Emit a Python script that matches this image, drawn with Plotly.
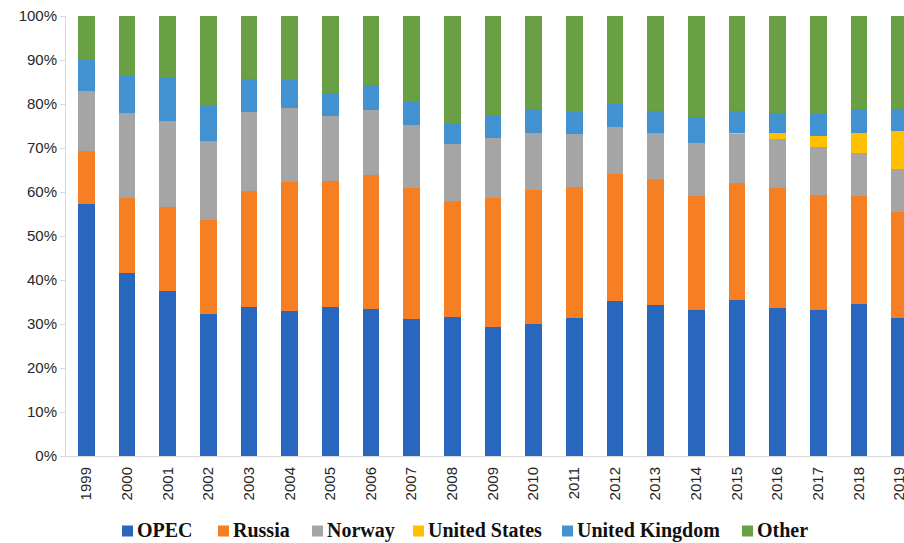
import plotly.graph_objects as go

years = [str(y) for y in range(1999, 2020)]

# Shares of each supplier (percent of total)
opec = [57.3, 41.5, 37.5, 32.2, 33.9, 32.9, 33.9, 33.3, 31.1, 31.6, 29.4,
        30.0, 31.4, 35.3, 34.4, 33.1, 35.4, 33.6, 33.1, 34.6, 31.4]
russia = [12.0, 17.2, 19.2, 21.5, 26.3, 29.4, 28.5, 30.6, 29.9, 26.3, 29.3,
          30.4, 29.7, 28.9, 28.6, 26.1, 26.6, 27.4, 26.2, 24.6, 24.1]
norway = [13.7, 19.3, 19.5, 17.9, 17.9, 16.8, 14.9, 14.8, 14.2, 12.9, 13.6,
          12.9, 12.0, 10.6, 10.4, 11.9, 11.3, 11.1, 10.9, 9.7, 9.7]
united_states = [0, 0, 0, 0, 0, 0, 0, 0, 0, 0, 0,
                 0, 0, 0, 0, 0, 0.2, 1.2, 2.6, 4.6, 8.6]
united_kingdom = [6.9, 8.4, 9.6, 8.2, 7.5, 6.4, 5.1, 5.7, 5.3, 4.7, 5.1,
                  5.5, 5.1, 5.2, 4.9, 5.9, 5.0, 4.7, 5.0, 5.3, 5.1]
other = [10.1, 13.6, 14.2, 20.2, 14.4, 14.5, 17.6, 15.6, 19.5, 24.5, 22.6,
         21.2, 21.8, 20.0, 21.7, 23.0, 21.5, 22.0, 22.2, 21.2, 21.1]

series = [
    ("OPEC", opec, "#2967BE"),
    ("Russia", russia, "#F57F22"),
    ("Norway", norway, "#A5A5A5"),
    ("United States", united_states, "#FFC000"),
    ("United Kingdom", united_kingdom, "#4292D2"),
    ("Other", other, "#69A044"),
]

W, H = 904, 543
M_L, M_R, M_T, M_B = 66, 0, 16, 87
PW, PH = W - M_L - M_R, H - M_T - M_B


def px_to_paper_x(px):
    return (px - M_L) / PW


def px_to_paper_y(py):
    return (H - M_B - py) / PH


fig = go.Figure()
for name, vals, color in series:
    fig.add_trace(go.Bar(
        x=years, y=[v / 100 for v in vals], name=name,
        marker=dict(color=color, line=dict(width=0)),
        showlegend=False,
    ))

# Legend row below the axis: small square swatch followed by bold serif label
legend_left_px = [122, 218, 312, 413, 562, 742]
legend_mid_py = 531
swatch = 11
shapes, annotations = [], []
for (name, _, color), lx in zip(series, legend_left_px):
    shapes.append(dict(
        type="rect", xref="paper", yref="paper",
        x0=px_to_paper_x(lx), x1=px_to_paper_x(lx + swatch),
        y0=px_to_paper_y(legend_mid_py + swatch / 2),
        y1=px_to_paper_y(legend_mid_py - swatch / 2),
        fillcolor=color, line=dict(width=0),
    ))
    annotations.append(dict(
        text=f"<b>{name}</b>", xref="paper", yref="paper",
        x=px_to_paper_x(lx + swatch + 2), y=px_to_paper_y(legend_mid_py - 1),
        xanchor="left", yanchor="middle", showarrow=False,
        font=dict(family="Liberation Serif", size=20, color="#111111"),
    ))

fig.update_layout(
    barmode="stack",
    bargap=0.59,
    width=W, height=H,
    margin=dict(l=M_L, r=M_R, t=M_T, b=M_B, autoexpand=False),
    plot_bgcolor="white",
    paper_bgcolor="white",
    showlegend=False,
    shapes=shapes,
    annotations=annotations,
    font=dict(family="Liberation Sans", color="#404040"),
)

fig.update_xaxes(
    type="category",
    range=[-0.5, 20.11],
    tickangle=-90,
    tickfont=dict(family="Liberation Sans", size=15, color="#262626"),
    showline=True, linecolor="#D9D9D9", linewidth=1,
    ticks="outside", ticklen=4, tickcolor="rgba(0,0,0,0)",
    showgrid=False, zeroline=False,
)
fig.update_yaxes(
    range=[0, 1],
    tickformat=".0%",
    dtick=0.1,
    tickfont=dict(family="Liberation Sans", size=15, color="#262626"),
    showline=True, linecolor="#D9D9D9", linewidth=1,
    ticks="outside", ticklen=5, tickcolor="#D9D9D9",
    showgrid=False, zeroline=False,
)

fig.write_html("out.html")
